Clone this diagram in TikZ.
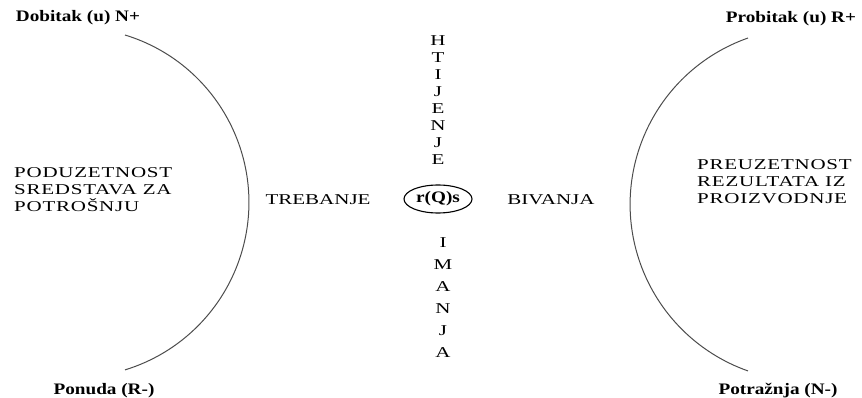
\documentclass[tikz,border=0pt]{standalone}
\usepackage{fontspec}
\setmainfont{Liberation Serif}[FakeStretch=1.2]
\newfontfamily\blockfont{Liberation Serif}[FakeStretch=1.4,LetterSpace=5]
\newfontfamily\wordfont{Liberation Serif}[FakeStretch=1.4]
\usetikzlibrary{shapes.geometric}

\begin{document}
\begin{tikzpicture}[x=1pt, y=-1pt, every node/.style={inner sep=0pt},
  corner/.style={font=\fontsize{16}{18}\selectfont\bfseries},
  block/.style={align=left, font=\blockfont\fontsize{15}{17}\selectfont},
  word/.style={font=\wordfont\fontsize{15}{18}\selectfont},
  column/.style={align=center, font=\wordfont\fontsize{15}{17.1}\selectfont},
  curve/.style={draw=black!70, line width=1pt}]
\useasboundingbox (0,0) rectangle (862,398);
% corner labels
\node (dobitak) [corner] at (78,18) {Dobitak (u) N+};
\node (probitak) [corner] at (791,19) {Probitak (u) R+};
\node (ponuda) [corner] at (104,391) {Ponuda (R-)};
\node (potraznja) [corner] at (778,391) {Potražnja (N-)};
% the two arcs
\coordinate (ltop) at (125,35);
\coordinate (rtop) at (748,38);
\draw[curve] (ltop) arc[start angle=-73, end angle=73, radius=175.1];
\draw[curve] (rtop) arc[start angle=250.6, end angle=109.4, radius=176.5];
% side texts
\node (poduzetnost) [block, anchor=west] at (14,190) {PODUZETNOST\\SREDSTAVA ZA\\POTROŠNJU};
\node (preuzetnost) [block, anchor=west] at (697,182) {PREUZETNOST\\REZULTATA IZ\\PROIZVODNJE};
% centre
\node (rqs) [draw, ellipse, line width=1.1pt, minimum width=68, minimum height=28, font=\fontsize{16}{18}\selectfont\bfseries] at (438,199) {r(Q)s};
\node (trebanje) [word] at (318,200) {TREBANJE};
\node (bivanja) [word] at (551,200) {BIVANJA};
\node (htijenje) [column] at (438,100) {H\\T\\I\\J\\E\\N\\J\\E};
\node (imanja) [column, font=\wordfont\fontsize{15}{22}\selectfont] at (443,298) {I\\M\\A\\N\\J\\A};
\end{tikzpicture}
\end{document}
